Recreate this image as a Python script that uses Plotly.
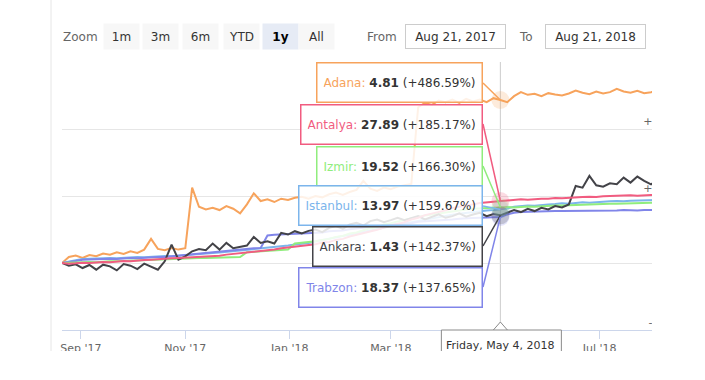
import plotly.graph_objects as go
import pandas as pd

# ---------------- data (percent change vs. first visible point) ----------------
dates = pd.date_range("2017-08-21", periods=89, freq="4D")

adana = [0, 18, 22, 15, 24, 20, 28, 25, 32, 27, 35, 30, 40, 72, 42, 38, 45, 40, 44,
         225, 168, 160, 165, 158, 170, 162, 148, 175, 208, 185, 190, 182, 192, 188, 195, 198, 192,
         200, 196, 205, 210, 203, 212, 218, 245, 222, 215, 225, 220, 228, 232, 236,
         465, 478, 472, 485, 480, 488, 478, 490, 482, 488, 480, 492, 486.59,
         480, 498, 510, 502, 505, 498, 507, 503, 500, 506, 515, 508, 504, 512, 506, 510, 520, 512,
         508, 514, 507, 510, 516, 512]

ankara = [0, -8, -4, -15, -6, -20, -5, -10, -22, -3, -8, -18, -2, -10, -20, 5, 55, 10, 20,
          35, 42, 38, 58, 40, 60, 44, 48, 52, 78, 60, 65, 58, 90, 85, 95, 88, 96,
          100, 92, 105, 110, 102, 115, 120, 112, 125, 130, 122, 128, 135, 128, 133, 140, 130, 138,
          145, 135, 140, 148, 138, 145, 150, 140, 146, 142.37,
          150, 158, 152, 162, 155, 165, 160, 170, 166, 175,
          230, 225, 260, 232, 228, 238, 235, 255, 240, 258, 245, 235, 248, 240]

antalya = [0, -2, -1, 1, 0, 2, 3, 2, 5, 6, 5, 8, 9, 10, 12, 12, 14, 15, 16, 18, 18, 20, 22, 22,
           25, 27, 28, 30, 33, 35, 38, 40, 44, 46, 48, 50, 52,
           56, 61, 63, 69, 72, 79, 84, 88, 95, 99, 106, 111, 118, 122, 130, 135, 143, 147, 153,
           157, 164, 167, 172, 175, 179, 181, 184, 185.17,
           187, 188, 190, 189, 191, 192, 192, 194, 193, 195, 196, 197, 198, 197, 199, 200, 200,
           201, 202, 201, 203, 203, 204, 204]

izmir = [0, 1, 0, 2, 3, 2, 4, 5, 5, 6, 7, 8, 8, 10, 11, 12, 12, 13, 14, 14, 15, 15, 16, 16,
         17, 17, 18, 32, 33, 34, 35, 36, 38, 40, 58, 60, 62,
         65, 69, 72, 78, 81, 88, 91, 98, 104, 107, 115, 119, 124, 130, 133, 138, 142, 145, 150,
         152, 155, 158, 160, 162, 163, 164, 165, 166.3,
         167, 166, 168, 169, 168, 170, 171, 172, 172, 173, 174, 175, 174, 176, 176, 177, 177,
         178, 178, 179, 179, 180, 180, 181]

istanbul = [0, 3, 8, 12, 13, 12, 14, 15, 14, 16, 17, 18, 17, 19, 20, 21, 20, 22, 24, 25, 26,
            28, 30, 31, 33, 35, 36, 38, 40, 42, 45, 47, 50, 52, 55, 57, 60,
            64, 68, 71, 75, 80, 84, 87, 92, 97, 100, 105, 110, 113, 118, 122, 126, 129, 134,
            138, 141, 144, 147, 150, 152, 155, 157, 158, 159.67,
            163, 168, 170, 172, 171, 174, 175, 176, 178, 177, 179, 181, 180, 182, 183, 184, 185,
            184, 186, 187, 187, 188, 188, 189]

trabzon = [0, 2, 6, 10, 11, 10, 12, 13, 12, 14, 15, 14, 16, 17, 18, 18, 20, 22, 24, 28, 30,
           32, 34, 36, 38, 40, 41, 42, 44, 45, 82, 84, 85, 86, 86, 87, 88,
           90, 91, 95, 96, 97, 101, 103, 104, 108, 110, 111, 114, 117, 118, 119, 123, 124, 125,
           128, 129, 130, 132, 134, 134, 135, 136, 137, 137.65,
           145, 150, 152, 153, 153, 154, 154, 155, 155, 155, 156, 156, 156, 157, 156, 157, 157,
           158, 157, 157, 158, 158, 157, 158]

series_names = ["Adana", "Istanbul", "Trabzon", "Izmir", "Ankara", "Antalya"]
series_values = [adana, istanbul, trabzon, izmir, ankara, antalya]
series_colors = ["#f7a35c", "#7cb5ec", "#8085e9", "#90ed7d", "#434348", "#f15c80"]

hover_date = "2018-05-04"
hover_label = "Friday, May 4, 2018"
tooltip_order = ["Adana", "Antalya", "Izmir", "Istanbul", "Ankara", "Trabzon"]
tooltip_prices = [4.81, 27.89, 19.52, 13.97, 1.43, 18.37]

# May '18 tick sits under the crosshair label box, so it is not listed
x_tick_dates = ["2017-09-01", "2017-11-01", "2018-01-01", "2018-03-01", "2018-07-01"]
y_ticks = [-200, 0, 200, 400, 600]
y_tick_labels = ["-200%", "0%", "+200%", "+400%", ""]

zoom_buttons = ["1m", "3m", "6m", "YTD", "1y", "All"]
active_button = "1y"
from_text = "Aug 21, 2017"
to_text = "Aug 21, 2018"
x_range = ["2017-08-21", "2018-08-21"]
y_range = [-200, 600]

# ---------------- layout geometry (pixels) ----------------
W, H = 705, 380
L, R, T, B = 62, 18, 62, 50
PW, PH = W - L - R, H - T - B
FONT = "DejaVu Sans, Verdana, sans-serif"


def px_x(px):
    return (px - L) / PW


def px_y(py):
    return (H - B - py) / PH


def val_to_py(v):
    return T + (y_range[1] - v) / (y_range[1] - y_range[0]) * PH


fig = go.Figure()
for name, vals, color in zip(series_names, series_values, series_colors):
    fig.add_trace(go.Scatter(x=dates, y=vals, mode="lines", name=name,
                             line=dict(color=color, width=2), hoverinfo="skip"))

hover_idx = list(dates).index(pd.Timestamp(hover_date))
lookup = {n: (v, c) for n, v, c in zip(series_names, series_values, series_colors)}

# halos at hovered points
for name, vals, color in zip(series_names, series_values, series_colors):
    fig.add_trace(go.Scatter(x=[dates[hover_idx]], y=[vals[hover_idx]], mode="markers",
                             marker=dict(size=18, color=color, opacity=0.22),
                             hoverinfo="skip", showlegend=False))

annotations = []
shapes = []

# split tooltips
box_centers = [83, 124, 166, 206, 246, 287]
box_right = 483
point_px = L + (pd.Timestamp(hover_date) - pd.Timestamp(x_range[0])).days / \
    (pd.Timestamp(x_range[1]) - pd.Timestamp(x_range[0])).days * PW
for k, name in enumerate(tooltip_order):
    vals, color = lookup[name]
    pct = vals[hover_idx]
    ay = box_centers[k] - val_to_py(pct)
    text = (f"<span style='color:{color}'>{name}:</span> "
            f"<b>{tooltip_prices[k]:.2f}</b> ({pct:+.2f}%)")
    annotations.append(dict(
        x=hover_date, y=pct, xref="x", yref="y", text=text,
        ax=box_right - point_px, ay=ay, axref="pixel", ayref="pixel",
        xanchor="right", yanchor="middle",
        showarrow=True, arrowhead=0, arrowwidth=1.5, arrowcolor=color,
        standoff=0, startstandoff=0,
        bgcolor="rgba(255,255,255,0.85)", bordercolor=color, borderwidth=1.5,
        borderpad=6, height=26, font=dict(family=FONT, size=12, color="#333333")))

# crosshair
shapes.append(dict(type="line", xref="x", yref="paper", x0=hover_date, x1=hover_date,
                   y0=0, y1=1, line=dict(color="#cccccc", width=1), layer="below"))

# x-axis crosshair label box + notch
shapes.append(dict(type="rect", xref="x", xsizemode="pixel", xanchor=hover_date,
                   x0=-59, x1=61, yref="paper", y0=px_y(400), y1=0,
                   fillcolor="white", line=dict(color="#8a8a8a", width=1), layer="above"))
shapes.append(dict(type="path", xref="x", xsizemode="pixel", xanchor=hover_date,
                   yref="y", ysizemode="pixel", yanchor=y_range[0],
                   path="M-7,0 L0,8 L7,0 Z", fillcolor="white",
                   line=dict(color="#8a8a8a", width=1), layer="above"))

# crop of the screenshot (bottom and right)
shapes.append(dict(type="rect", xref="paper", yref="paper", x0=-0.2, x1=1.2,
                   y0=px_y(420), y1=px_y(351), fillcolor="white", line=dict(width=0),
                   layer="above"))
shapes.append(dict(type="rect", xref="paper", yref="paper", x0=px_x(652), x1=px_x(720),
                   y0=px_y(420), y1=px_y(56), fillcolor="white", line=dict(width=0),
                   layer="above"))
# container border on the left
shapes.append(dict(type="line", xref="paper", yref="paper", x0=px_x(51), x1=px_x(51),
                   y0=px_y(351), y1=px_y(0), line=dict(color="#e6e6e6", width=1),
                   layer="above"))

annotations.append(dict(x=hover_date, y=px_y(345), xref="x", yref="paper",
                        xanchor="center", yanchor="middle",
                        text=hover_label, showarrow=False,
                        font=dict(family=FONT, size=11, color="#333333")))

# range selector row
row_y = px_y(37)
hdr = dict(xref="paper", yref="paper", xanchor="center", yanchor="middle", showarrow=False)
annotations.append(dict(x=px_x(80), y=row_y, text="Zoom",
                        font=dict(family=FONT, size=12, color="#666666"), **hdr))
btn_centers = [121, 160, 200, 241, 280, 316]
for lbl, cx in zip(zoom_buttons, btn_centers):
    active = lbl == active_button
    annotations.append(dict(
        x=px_x(cx), y=row_y,
        text=f"<b>{lbl}</b>" if active else lbl,
        bgcolor="#e6ebf5" if active else "#f7f7f7", width=31, height=21, borderpad=2,
        font=dict(family=FONT, size=12, color="#000000" if active else "#333333"), **hdr))
annotations.append(dict(x=px_x(382), y=row_y, text="From",
                        font=dict(family=FONT, size=12, color="#666666"), **hdr))
annotations.append(dict(x=px_x(526), y=row_y, text="To",
                        font=dict(family=FONT, size=12, color="#666666"), **hdr))
for txt, cx in [(from_text, 455.5), (to_text, 595.5)]:
    annotations.append(dict(
        x=px_x(cx), y=row_y, text=txt,
        bgcolor="white", bordercolor="#cccccc", borderwidth=1, width=95, height=19,
        borderpad=2, font=dict(family=FONT, size=12, color="#333333"), **hdr))

fig.update_layout(
    width=W, height=H, margin=dict(l=L, r=R, t=T, b=B),
    paper_bgcolor="white", plot_bgcolor="white", showlegend=False,
    font=dict(family=FONT, color="#666666"),
    hovermode=False,
    xaxis=dict(type="date", range=x_range, showgrid=False, showline=True,
               linecolor="#ccd6eb", linewidth=1, ticks="outside", ticklen=8,
               tickcolor="#ccd6eb", tickvals=x_tick_dates,
               tickformat="%b '%y", tickfont=dict(size=11, color="#666666"),
               zeroline=False),
    yaxis=dict(range=y_range, side="right", tickvals=y_ticks, ticktext=y_tick_labels,
               ticklabelposition="inside top", showgrid=True, gridcolor="#e6e6e6",
               zeroline=False, showline=False, tickfont=dict(size=11, color="#666666")),
    annotations=annotations, shapes=shapes,
)

fig.write_html("out.html", config={"displayModeBar": False},
               post_script="document.body.style.margin='0px';")
